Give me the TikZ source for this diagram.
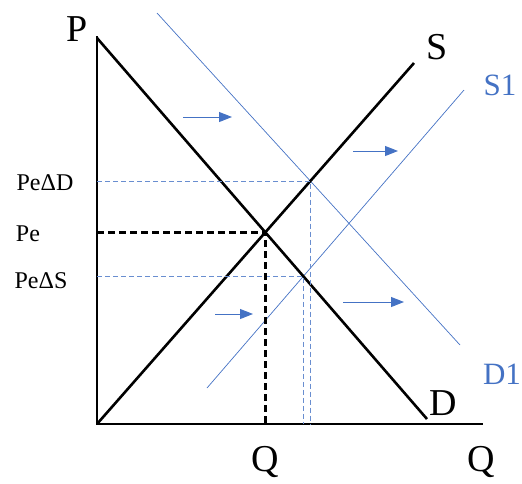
\documentclass[tikz,border=0pt]{standalone}
\usepackage{fontspec}
\setmainfont{Liberation Serif}
\usetikzlibrary{arrows.meta,intersections}

\definecolor{shiftblue}{RGB}{68,114,196}

\tikzset{
  curve/.style={line width=2.6pt,black},
  shifted/.style={line width=0.7pt,shiftblue},
  eqline/.style={line width=2.4pt,black,dash pattern=on 7pt off 4pt},
  helpline/.style={line width=0.6pt,shiftblue!80,dash pattern=on 5pt off 3pt},
  shiftarrow/.style={line width=1pt,shiftblue,-{Triangle[length=13pt,width=10pt]}},
  biglabel/.style={font=\fontsize{38}{38}\selectfont},
  bluelabel/.style={font=\fontsize{31}{31}\selectfont,text=shiftblue},
  pricelabel/.style={font=\fontsize{24}{24}\selectfont}
}

\begin{document}
\begin{tikzpicture}[x=1pt,y=-1pt]
        \useasboundingbox (0,0) rectangle (522,483);

        % ---------------------------------------------------------
        % Achsen
        % ---------------------------------------------------------
        \coordinate (O) at (97,424);
        \coordinate (Ptop) at (97,36);
        \coordinate (Qend) at (483,424);
        \draw[curve] (Ptop) -- (O) -- (Qend);

        \node[biglabel] (lblP) at (77,29) {P};
        \node[biglabel] (lblQ) at (481,462) {Q};

        % ---------------------------------------------------------
        % Kurven: D, S (alt) und D1, S1 (verschoben)
        % ---------------------------------------------------------
        \coordinate (Dtop) at (97,38);
        \coordinate (Dend) at (427,419);
        \coordinate (Stop) at (414,63);
        \coordinate (D1top) at (157,13);
        \coordinate (D1end) at (460,345);
        \coordinate (S1bot) at (207,388);
        \coordinate (S1top) at (464,90);

        \draw[shifted,name path=dem1] (D1top) -- (D1end);
        \draw[shifted,name path=sup1] (S1bot) -- (S1top);
        \draw[curve,name path=dem] (Dtop) -- (Dend);
        \draw[curve,name path=sup] (O) -- (Stop);

        \node[biglabel] (lblS) at (437,47) {S};
        \node[biglabel] (lblD) at (443,403) {D};
        \node[bluelabel] (lblS1) at (500,85) {S1};
        \node[bluelabel] (lblD1) at (502,374) {D1};

        % Schnittpunkte
        \path[name intersections={of=dem and sup,by=E}];
        \path[name intersections={of=dem1 and sup,by=ED}];
        \path[name intersections={of=dem and sup1,by=ES}];

        % ---------------------------------------------------------
        % Hilfslinien zu den Achsen
        % ---------------------------------------------------------
        \draw[helpline] (ED -| O) -- (ED) -- (ED |- O);
        \draw[helpline] (ES -| O) -- (ES) -- (ES |- O);
        \draw[eqline] (E -| O) -- (E) -- (E |- O);

        \node[pricelabel] (lblPeD) at (45,183) {PeΔD};
        \node[pricelabel] (lblPe) at (28,234) {Pe};
        \node[pricelabel] (lblPeS) at (41,281) {PeΔS};
        \node[biglabel] (lblQe) at (265,462) {Q};

        % ---------------------------------------------------------
        % Verschiebungspfeile
        % ---------------------------------------------------------
        \coordinate (a1) at (183,117); \coordinate (b1) at (232,117);
        \coordinate (a2) at (353,151); \coordinate (b2) at (398,151);
        \coordinate (a3) at (215,314); \coordinate (b3) at (253,314);
        \coordinate (a4) at (343,302); \coordinate (b4) at (404,302);
        \foreach \i in {1,...,4}
          \draw[shiftarrow] (a\i) -- (b\i);

    \end{tikzpicture}
\end{document}
